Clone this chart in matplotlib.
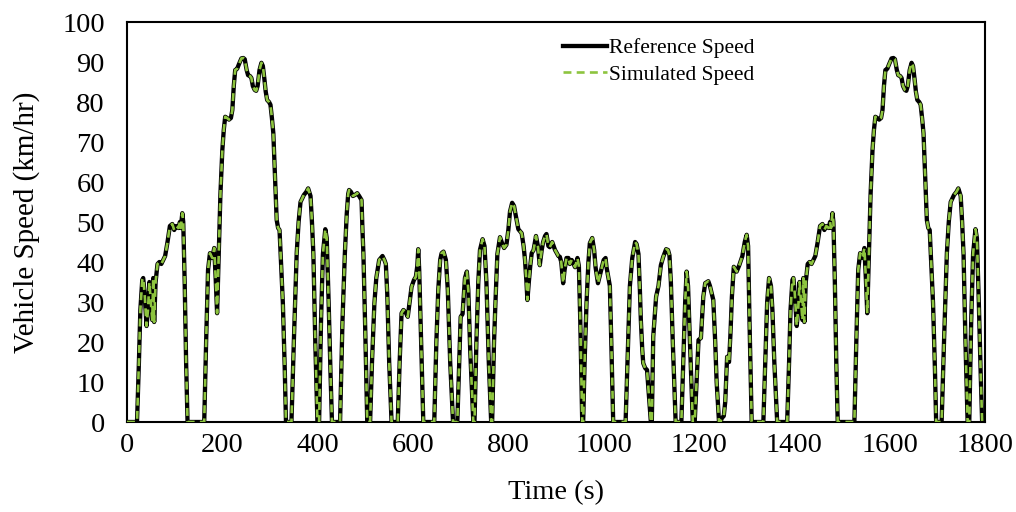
import matplotlib
matplotlib.use("Agg")
import matplotlib.pyplot as plt

# ---- data (time in s, speed in km/h) ----
time_s = [
    0, 21, 25, 28, 32, 34, 37, 41, 44, 47, 50, 53, 55, 57, 60, 64, 68, 72, 76, 80, 85, 90, 95, 99, 103, 108, 111, 113, 116, 118, 121, 124, 127,
    162, 166, 170, 174, 179, 183, 186, 189, 192, 196, 200, 203, 206, 210, 214, 218, 221, 224, 227, 231, 235, 240, 244, 247, 251, 254, 258, 261, 264, 268, 271, 274, 278, 282, 285, 288, 291, 294, 298, 301, 304, 307, 310, 314, 317, 320, 323, 327, 331, 333.5,
    345, 350, 356, 360, 364, 371, 376, 380, 385, 388, 391, 395, 399.5,
    403, 407, 411, 416, 419, 423, 427, 430,
    447, 452, 457, 461, 464, 466, 470, 474, 478, 483, 487, 492, 494, 496, 500, 504,
    510, 514, 519, 523, 529, 536, 540, 543, 546, 550, 555,
    568, 572, 576, 580, 585, 589, 593, 597, 602, 606, 609, 611, 613, 617, 621.6,
    644.6, 649, 653, 657, 660, 664, 669, 673, 678, 684,
    693, 697, 700, 704, 709, 713, 716, 720, 726.5,
    729, 733, 737, 740.5, 746, 750, 754, 759, 764,
    766, 770, 773, 777, 782.5, 786, 791, 796, 800, 803.5, 808, 812, 815, 821, 828, 832, 835, 838, 840, 843, 846, 849, 853, 858, 862, 866, 870, 873, 877, 880, 884, 887, 892, 898, 905, 908, 911, 915, 918, 922, 926, 929, 933, 940, 945, 948, 951, 955,
    957, 960, 964, 968, 971, 976, 980, 983, 988, 992, 996, 1000, 1004, 1006, 1010, 1013, 1016, 1020,
    1046, 1050, 1055, 1060, 1066, 1069, 1073, 1076, 1078, 1081, 1083, 1087, 1091, 1094, 1099,
    1101, 1104, 1110, 1115, 1120, 1125, 1131, 1135, 1138, 1141, 1145, 1151,
    1163, 1167, 1171, 1174, 1177, 1181, 1187,
    1191, 1195, 1199, 1204, 1209, 1213, 1219.5, 1223, 1226, 1230, 1234, 1237, 1242,
    1245, 1248, 1252, 1255, 1259, 1263, 1266, 1269, 1273, 1279, 1284.5, 1291, 1296, 1300, 1303, 1306, 1310.5,
    1335, 1339, 1343, 1347, 1351, 1354, 1358, 1364,
    1385, 1389, 1392, 1396, 1398, 1401, 1405, 1408, 1411, 1414, 1417, 1419, 1421, 1424, 1428, 1432, 1436, 1440, 1444, 1449, 1454, 1459, 1463, 1467, 1472, 1475, 1477, 1480, 1482, 1485, 1488, 1491,
    1526, 1530, 1534, 1538, 1543, 1547, 1550, 1553, 1556, 1560, 1564, 1567, 1570, 1574, 1578, 1582, 1585, 1588, 1591, 1595, 1599, 1604, 1608, 1611, 1615, 1618, 1622, 1625, 1628, 1632, 1635, 1638, 1642, 1646, 1649, 1652, 1655, 1658, 1662, 1665, 1668, 1671, 1674, 1678, 1681, 1684, 1687, 1691, 1695, 1697.5,
    1709, 1714, 1720, 1724, 1728, 1735, 1740, 1744, 1749, 1752, 1755, 1759, 1763.5,
    1767, 1771, 1775, 1780, 1783, 1787, 1791, 1794, 1800,
]

speed_kmh = [
    0, 0, 15, 28, 35.5, 36, 32, 24, 28, 35, 30, 25.5, 36, 25, 35, 39.5, 40, 39.5, 40.5, 41.5, 45, 49, 49.5, 48, 49, 48.5, 50, 48.5, 52.2, 50, 35, 15, 0,
    0, 20, 38, 42.2, 41, 43.5, 36, 27.2, 40, 57, 68, 73, 76.3, 76, 75.6, 76, 78, 84, 88, 88.3, 89.5, 90.9, 91, 90.7, 88, 86.7, 86.5, 86, 84, 83, 82.8, 84, 88, 89.8, 89, 86, 82.6, 80.5, 80, 79.3, 76, 72.2, 63, 50.5, 48.5, 48, 40, 29.7, 13, 0,
    0, 20, 42.2, 50, 55, 56.75, 57.5, 58.4, 56.5, 50, 42, 20, 0,
    0, 25, 42, 48.2, 46, 30, 12, 0,
    0, 25, 42, 52, 57, 58, 57.5, 56.5, 56.75, 57.2, 56.5, 55.5, 48, 42, 22, 0,
    0, 15, 29.7, 36, 40.5, 41.5, 40.5, 39.5, 32, 15, 0,
    0, 15, 27.2, 28, 27.3, 26.3, 30, 33.8, 35.5, 36.3, 39, 43.2, 38, 20, 0,
    0, 20, 33, 40.5, 42.2, 42.6, 40.5, 33, 15, 0,
    0, 15, 26.3, 27, 36, 37.6, 33, 18, 0,
    0, 20, 35, 43, 45.7, 44, 35, 15, 0,
    0, 20, 30, 42, 46.2, 45, 43.5, 44.3, 48, 52.6, 54.8, 54, 52, 48.2, 47.2, 44, 40.5, 35, 30.5, 35, 39, 42.2, 43, 46.5, 44, 39.2, 43, 45, 46.5, 47, 44, 43.7, 45, 43, 41.5, 41.3, 40, 34.7, 38, 41, 41, 39.5, 40.5, 38.7, 41, 39, 25, 0,
    0, 15, 29.7, 40, 44.7, 46, 43, 38.7, 34.7, 36.6, 38.5, 40.5, 41, 38.7, 36, 34, 20, 0,
    0, 15, 34, 41, 45, 44.5, 42, 33, 25.5, 18, 14.7, 13.5, 13, 8, 0,
    0, 21.3, 31.3, 34, 39.2, 41.3, 43.2, 43, 41.7, 35, 20, 0,
    0, 15, 30, 37.6, 34, 20, 0,
    0, 10, 20.5, 21, 31.3, 34.7, 35.2, 34, 32.5, 30.5, 20, 10, 0,
    0, 1, 1.5, 5, 16.3, 15, 22, 31.3, 38.8, 37.6, 39.2, 41.5, 45, 46.8, 44, 25, 0,
    0, 15, 30, 36, 34, 28, 15, 0,
    0, 15, 28, 35.5, 36, 32, 24, 28, 35, 30, 25.5, 36, 25, 35, 39.5, 40, 39.5, 40.5, 41.5, 45, 49, 49.5, 48, 49, 48.5, 50, 48.5, 52.2, 50, 35, 15, 0,
    0, 20, 38, 42.2, 41, 43.5, 36, 27.2, 40, 57, 68, 73, 76.3, 76, 75.6, 76, 78, 84, 88, 88.3, 89.5, 90.9, 91, 90.7, 88, 86.7, 86.5, 86, 84, 83, 82.8, 84, 88, 89.8, 89, 86, 82.6, 80.5, 80, 79.3, 76, 72.2, 63, 50.5, 48.5, 48, 40, 29.7, 13, 0,
    0, 20, 42.2, 50, 55, 56.75, 57.5, 58.4, 56.5, 50, 42, 20, 0,
    0, 25, 42, 48.2, 46, 30, 12, 0, 0,
]

# simulated speed follows the reference trace
simulated_kmh = list(speed_kmh)

x_ticks = [0, 200, 400, 600, 800, 1000, 1200, 1400, 1600, 1800]
y_ticks = [0, 10, 20, 30, 40, 50, 60, 70, 80, 90, 100]
series_labels = ["Reference Speed", "Simulated Speed"]
x_label = "Time (s)"
y_label = "Vehicle Speed (km/hr)"

plt.rcParams["font.family"] = ["Liberation Serif", "DejaVu Serif"]

fig = plt.figure(figsize=(10.16, 5.12), dpi=100)
ax = fig.add_axes([127 / 1016, 90 / 512, 858 / 1016, 400 / 512])

ax.plot(time_s, speed_kmh, color="black", lw=3.1, solid_joinstyle="round",
        label=series_labels[0], zorder=3)
ax.plot(time_s, simulated_kmh, color="#8DC43F", lw=1.9, dashes=(3, 2),
        label=series_labels[1], zorder=4)

ax.set_xlim(0, 1800)
ax.set_ylim(0, 100)
ax.set_xticks(x_ticks)
ax.set_yticks(y_ticks)
ax.tick_params(axis="both", labelsize=20.5, length=0, colors="black")
ax.tick_params(axis="x", pad=8)
ax.tick_params(axis="y", pad=16)
for sp in ax.spines.values():
    sp.set_color("black")
    sp.set_linewidth(1.5)

ax.set_xlabel(x_label, fontsize=20.5, labelpad=16)
ax.set_ylabel(y_label, fontsize=21, labelpad=16)

leg = ax.legend(loc="upper left", bbox_to_anchor=((563 - 127) / 858, 0.96),
                frameon=False, fontsize=15.5, handlelength=2.05,
                handletextpad=0.1, labelspacing=0.3, borderpad=0,
                borderaxespad=0)

fig.savefig("out.png", dpi=100)
